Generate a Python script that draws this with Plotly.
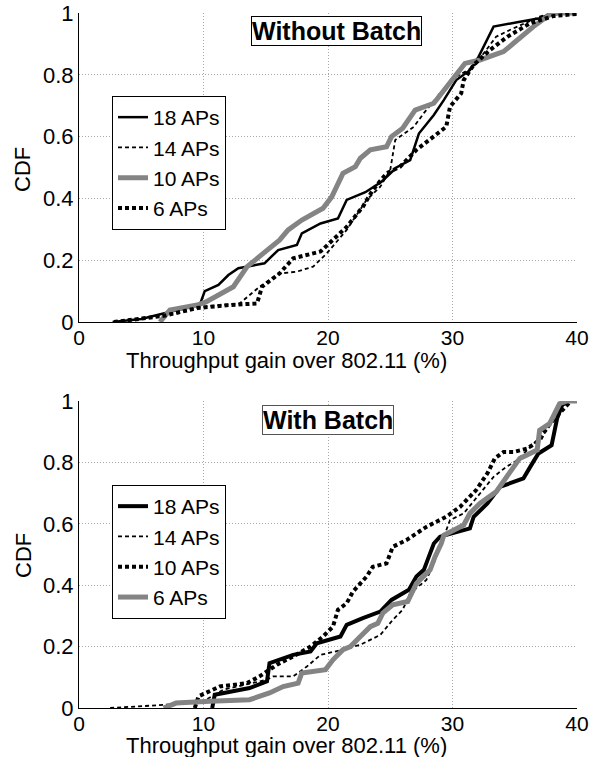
import plotly.graph_objects as go

# ---------------- data ----------------
x_ticks = [0, 10, 20, 30, 40]
y_ticks = [0, 0.2, 0.4, 0.6, 0.8, 1]
y_tick_text = ["0", "0.2", "0.4", "0.6", "0.8", "1"]

# Top panel: Without Batch
top_18_x = [2.7, 5.0, 7.5, 9.7, 10.1, 11.2, 12.0, 12.8, 14.9, 16.0, 17.5, 17.9, 19.4, 20.8, 21.5, 23.0, 24.3, 25.5, 26.6, 27.3, 28.5, 29.3, 30.3, 31.4, 32.1, 33.3, 35.2, 37.0, 38.1, 40.0]
top_18_y = [0.0, 0.01, 0.035, 0.055, 0.10, 0.12, 0.152, 0.174, 0.19, 0.233, 0.249, 0.287, 0.319, 0.335, 0.395, 0.42, 0.454, 0.50, 0.524, 0.61, 0.67, 0.718, 0.783, 0.815, 0.859, 0.956, 0.97, 0.983, 1.0, 1.0]

top_14_x = [2.8, 6.8, 10.0, 12.9, 14.5, 16.1, 17.5, 18.8, 19.9, 21.5, 23.1, 24.2, 25.0, 25.4, 26.9, 27.7, 29.0, 30.3, 31.7, 33.5, 34.6, 37.0, 38.0, 40.0]
top_14_y = [0.0, 0.022, 0.05, 0.06, 0.114, 0.157, 0.163, 0.179, 0.222, 0.298, 0.395, 0.438, 0.492, 0.589, 0.632, 0.676, 0.74, 0.794, 0.826, 0.923, 0.945, 0.988, 1.0, 1.0]

top_10_x = [6.5, 7.3, 9.5, 10.2, 12.4, 13.5, 14.8, 16.1, 16.8, 17.9, 19.6, 20.3, 21.2, 22.2, 22.6, 23.4, 24.7, 25.1, 26.0, 27.0, 28.5, 29.8, 31.0, 32.2, 34.1, 34.9, 36.5, 37.8, 38.5, 40.0]
top_10_y = [0.0, 0.039, 0.055, 0.065, 0.114, 0.179, 0.222, 0.265, 0.298, 0.33, 0.368, 0.405, 0.481, 0.503, 0.53, 0.557, 0.567, 0.60, 0.627, 0.686, 0.708, 0.772, 0.837, 0.848, 0.875, 0.902, 0.956, 0.994, 1.0, 1.0]

top_6_x = [2.8, 6.8, 9.5, 12.1, 14.3, 14.7, 16.1, 17.2, 19.4, 20.4, 21.5, 22.8, 23.6, 24.7, 25.8, 27.1, 28.5, 29.5, 29.8, 30.7, 30.9, 31.7, 33.0, 34.4, 36.2, 38.1, 40.0]
top_6_y = [0.0, 0.02, 0.045, 0.055, 0.06, 0.114, 0.157, 0.206, 0.228, 0.265, 0.308, 0.373, 0.427, 0.481, 0.503, 0.557, 0.60, 0.632, 0.697, 0.74, 0.783, 0.832, 0.88, 0.923, 0.966, 0.99, 0.997]

# Bottom panel: With Batch
bot_18_x = [10.7, 10.9, 13.7, 15.1, 15.3, 17.2, 18.6, 19.1, 21.0, 21.5, 22.8, 24.2, 25.1, 26.5, 27.1, 27.7, 28.1, 28.5, 29.0, 30.1, 31.4, 31.7, 32.8, 33.8, 35.7, 36.4, 36.9, 37.96, 38.4, 38.8, 39.2, 40.0]
bot_18_y = [0.0, 0.043, 0.065, 0.087, 0.146, 0.173, 0.184, 0.211, 0.233, 0.271, 0.293, 0.314, 0.352, 0.385, 0.428, 0.45, 0.493, 0.536, 0.558, 0.569, 0.585, 0.623, 0.666, 0.72, 0.748, 0.796, 0.829, 0.856, 0.943, 0.986, 1.0, 1.0]

bot_14_x = [2.5, 6.8, 10.0, 11.6, 15.1, 15.6, 17.2, 18.3, 19.4, 21.2, 22.6, 23.4, 24.2, 25.2, 26.0, 26.6, 27.9, 28.5, 29.3, 29.8, 30.9, 32.2, 33.3, 34.3, 35.2, 36.0, 37.6, 38.4, 39.2, 40.0]
bot_14_y = [0.0, 0.01, 0.022, 0.06, 0.092, 0.103, 0.103, 0.135, 0.173, 0.19, 0.206, 0.222, 0.238, 0.287, 0.32, 0.374, 0.417, 0.471, 0.558, 0.612, 0.634, 0.699, 0.753, 0.785, 0.807, 0.84, 0.905, 0.959, 0.997, 1.0]

bot_10_x = [9.3, 9.6, 11.3, 13.5, 14.5, 15.9, 17.2, 18.6, 19.6, 20.4, 20.8, 21.5, 22.0, 23.1, 23.6, 24.7, 25.2, 26.3, 27.9, 29.5, 30.6, 31.9, 32.8, 33.4, 34.1, 34.9, 36.0, 37.0, 37.6, 38.6, 39.5, 40.0]
bot_10_y = [0.0, 0.038, 0.07, 0.081, 0.103, 0.141, 0.168, 0.2, 0.233, 0.265, 0.32, 0.341, 0.379, 0.428, 0.46, 0.471, 0.525, 0.547, 0.59, 0.623, 0.655, 0.71, 0.764, 0.813, 0.834, 0.834, 0.845, 0.872, 0.916, 0.96, 1.0, 1.0]

bot_6_x = [6.8, 7.8, 10.5, 13.7, 15.3, 16.4, 17.6, 17.9, 19.8, 20.4, 21.2, 21.8, 22.6, 23.4, 24.0, 24.4, 25.2, 26.4, 27.1, 28.2, 28.6, 29.1, 29.3, 30.9, 31.4, 32.2, 33.5, 34.3, 35.4, 36.8, 37.0, 37.8, 38.6, 39.2, 40.0]
bot_6_y = [0.0, 0.016, 0.022, 0.027, 0.049, 0.07, 0.081, 0.114, 0.125, 0.157, 0.19, 0.2, 0.233, 0.265, 0.276, 0.309, 0.336, 0.347, 0.406, 0.45, 0.493, 0.536, 0.563, 0.596, 0.634, 0.666, 0.704, 0.753, 0.813, 0.84, 0.905, 0.926, 0.991, 1.0, 1.0]

labels = ["18 APs", "14 APs", "10 APs", "6 APs"]

# ---------------- styles ----------------
BLACK = "#000000"
GRAY = "#848484"
GRID = "#a8a8a8"
FONT = "Liberation Sans, Arial, Helvetica, sans-serif"

top_styles = [
    dict(color=BLACK, width=2.5, dash="solid"),
    dict(color=BLACK, width=1.8, dash="4px,3px"),
    dict(color=GRAY, width=5, dash="solid"),
    dict(color=BLACK, width=4, dash="4px,3px"),
]
bot_styles = [
    dict(color=BLACK, width=4, dash="solid"),
    dict(color=BLACK, width=1.8, dash="4px,3px"),
    dict(color=BLACK, width=4, dash="4px,3px"),
    dict(color=GRAY, width=5, dash="solid"),
]

top_series = [(top_18_x, top_18_y), (top_14_x, top_14_y), (top_10_x, top_10_y), (top_6_x, top_6_y)]
bot_series = [(bot_18_x, bot_18_y), (bot_14_x, bot_14_y), (bot_10_x, bot_10_y), (bot_6_x, bot_6_y)]

fig = go.Figure()
for i, ((xs, ys), st) in enumerate(zip(top_series, top_styles)):
    fig.add_trace(go.Scatter(x=xs, y=ys, mode="lines", name=labels[i], line=st,
                             xaxis="x", yaxis="y", legend="legend"))
for i, ((xs, ys), st) in enumerate(zip(bot_series, bot_styles)):
    fig.add_trace(go.Scatter(x=xs, y=ys, mode="lines", name=labels[i], line=st,
                             xaxis="x2", yaxis="y2", legend="legend2"))

# geometry: screen pixel targets (body margin removed by post_script)
W, H = 601, 757
PL, PR, PT, PB = 79, 577, 13, 708          # plot block on screen
L, T, R, B = PL, PT, W - PR, H - PB
pw, ph = PR - PL, PB - PT


def px_x(p):
    return (p - PL) / pw


def px_y(p):
    return (PB - p) / ph


axis_common = dict(
    range=[0, 40], tickvals=x_ticks, showgrid=True, gridcolor=GRID, griddash="1px,2px",
    gridwidth=1, zeroline=False, showline=True, linecolor=BLACK, linewidth=1, ticks="",
    tickfont=dict(family=FONT, size=21, color=BLACK), automargin=False,
    ticklabeloverflow="allow", ticklabelstandoff=-3,
)
yaxis_common = dict(
    range=[0, 1], tickvals=y_ticks, ticktext=y_tick_text,
    showgrid=True, gridcolor=GRID, griddash="1px,2px", gridwidth=1, zeroline=False,
    showline=True, linecolor=BLACK, linewidth=1, ticks="",
    tickfont=dict(family=FONT, size=22, color=BLACK), automargin=False,
    ticklabeloverflow="allow",
)

legend_common = dict(
    x=px_x(112), xanchor="left", bgcolor="white", bordercolor=BLACK, borderwidth=1,
    font=dict(family=FONT, size=21, color=BLACK), itemwidth=30, traceorder="normal",
)

fig.update_layout(
    width=W, height=H,
    margin=dict(l=L, r=R, t=T, b=B, autoexpand=False),
    paper_bgcolor="white", plot_bgcolor="white",
    showlegend=True,
    xaxis=dict(axis_common, domain=[0, 1], anchor="y"),
    yaxis=dict(yaxis_common, domain=[px_y(322), 1], anchor="x"),
    xaxis2=dict(axis_common, domain=[0, 1], anchor="y2"),
    yaxis2=dict(yaxis_common, domain=[0, px_y(401)], anchor="x2"),
    legend=dict(legend_common, y=px_y(96), yanchor="top"),
    legend2=dict(legend_common, y=px_y(485), yanchor="top"),
)

ann_font = dict(family=FONT, size=22, color=BLACK)
annotations = [
    dict(text="Throughput gain over 802.11 (%)", x=px_x(286), y=px_y(361)),
    dict(text="Throughput gain over 802.11 (%)", x=px_x(286), y=px_y(745)),
    dict(text="CDF", x=px_x(23), y=px_y(170), textangle=-90),
    dict(text="CDF", x=px_x(23), y=px_y(556), textangle=-90),
]
for a in annotations:
    fig.add_annotation(xref="paper", yref="paper", showarrow=False, xanchor="center",
                       yanchor="middle", font=ann_font, **a)

fig.add_annotation(text="<b>Without Batch</b>", xref="paper", yref="paper", x=px_x(336), y=px_y(31.5),
                   showarrow=False, xanchor="center", yanchor="middle",
                   font=dict(family=FONT, size=25, color=BLACK),
                   bgcolor="white", bordercolor=BLACK, borderwidth=1, borderpad=0)
fig.add_annotation(text="<b>With Batch</b>", xref="paper", yref="paper", x=px_x(328), y=px_y(420),
                   showarrow=False, xanchor="center", yanchor="middle",
                   font=dict(family=FONT, size=25, color=BLACK),
                   bgcolor="white", bordercolor="#555555", borderwidth=1, borderpad=0)

fig.write_html("out.html", config={"displayModeBar": False},
               post_script="document.body.style.margin='0px';")
